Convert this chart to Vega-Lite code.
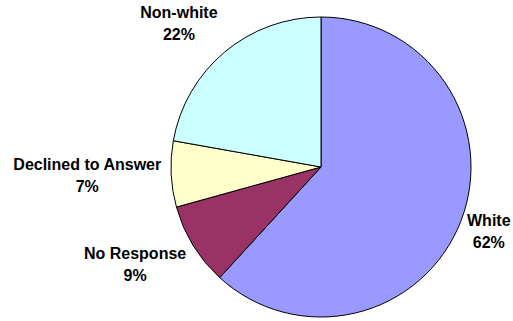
{
  "$schema": "https://vega.github.io/schema/vega-lite/v6.json",
  "autosize": "none",
  "width": 300,
  "height": 300,
  "padding": {"left": 171, "top": 17, "right": 42, "bottom": 4},
  "background": "white",
  "config": {"view": {"stroke": null}},
  "data": {"values": [
    {"cat": "White", "value": 61.8, "ord": 1, "label": "White\n62%"},
    {"cat": "No Response", "value": 8.9, "ord": 2, "label": "No Response\n9%"},
    {"cat": "Declined to Answer", "value": 7.1, "ord": 3, "label": "Declined to Answer\n7%"},
    {"cat": "Non-white", "value": 22.2, "ord": 4, "label": "Non-white\n22%"}
  ]},
  "encoding": {
    "theta": {"field": "value", "type": "quantitative", "stack": true},
    "order": {"field": "ord", "type": "quantitative"}
  },
  "layer": [
    {
      "mark": {"type": "arc", "stroke": "black", "strokeWidth": 1},
      "encoding": {
        "color": {"field": "cat", "type": "nominal", "legend": null,
          "scale": {"domain": ["White", "No Response", "Declined to Answer", "Non-white"],
                    "range": ["#9999FF", "#993366", "#FFFFCC", "#CCFFFF"]}}
      }
    },
    {
      "mark": {"type": "text", "radius": 180, "dx": 0, "dy": -11, "font": "Liberation Sans", "fontWeight": "bold", "fontSize": 16, "lineHeight": 22, "lineBreak": "\n", "align": "center", "baseline": "middle", "color": "black"},
      "encoding": {"text": {"condition": {"test": "datum.cat === 'White'", "field": "label"}, "value": ""}}
    },
    {
      "mark": {"type": "text", "radius": 211, "dx": -6, "dy": -23, "font": "Liberation Sans", "fontWeight": "bold", "fontSize": 16, "lineHeight": 22, "lineBreak": "\n", "align": "center", "baseline": "middle", "color": "black"},
      "encoding": {"text": {"condition": {"test": "datum.cat === 'No Response'", "field": "label"}, "value": ""}}
    },
    {
      "mark": {"type": "text", "radius": 234, "dx": 0, "dy": -13, "font": "Liberation Sans", "fontWeight": "bold", "fontSize": 16, "lineHeight": 22, "lineBreak": "\n", "align": "center", "baseline": "middle", "color": "black"},
      "encoding": {"text": {"condition": {"test": "datum.cat === 'Declined to Answer'", "field": "label"}, "value": ""}}
    },
    {
      "mark": {"type": "text", "radius": 201, "dx": -13, "dy": 0, "font": "Liberation Sans", "fontWeight": "bold", "fontSize": 16, "lineHeight": 22, "lineBreak": "\n", "align": "center", "baseline": "middle", "color": "black"},
      "encoding": {"text": {"condition": {"test": "datum.cat === 'Non-white'", "field": "label"}, "value": ""}}
    }
  ]
}
